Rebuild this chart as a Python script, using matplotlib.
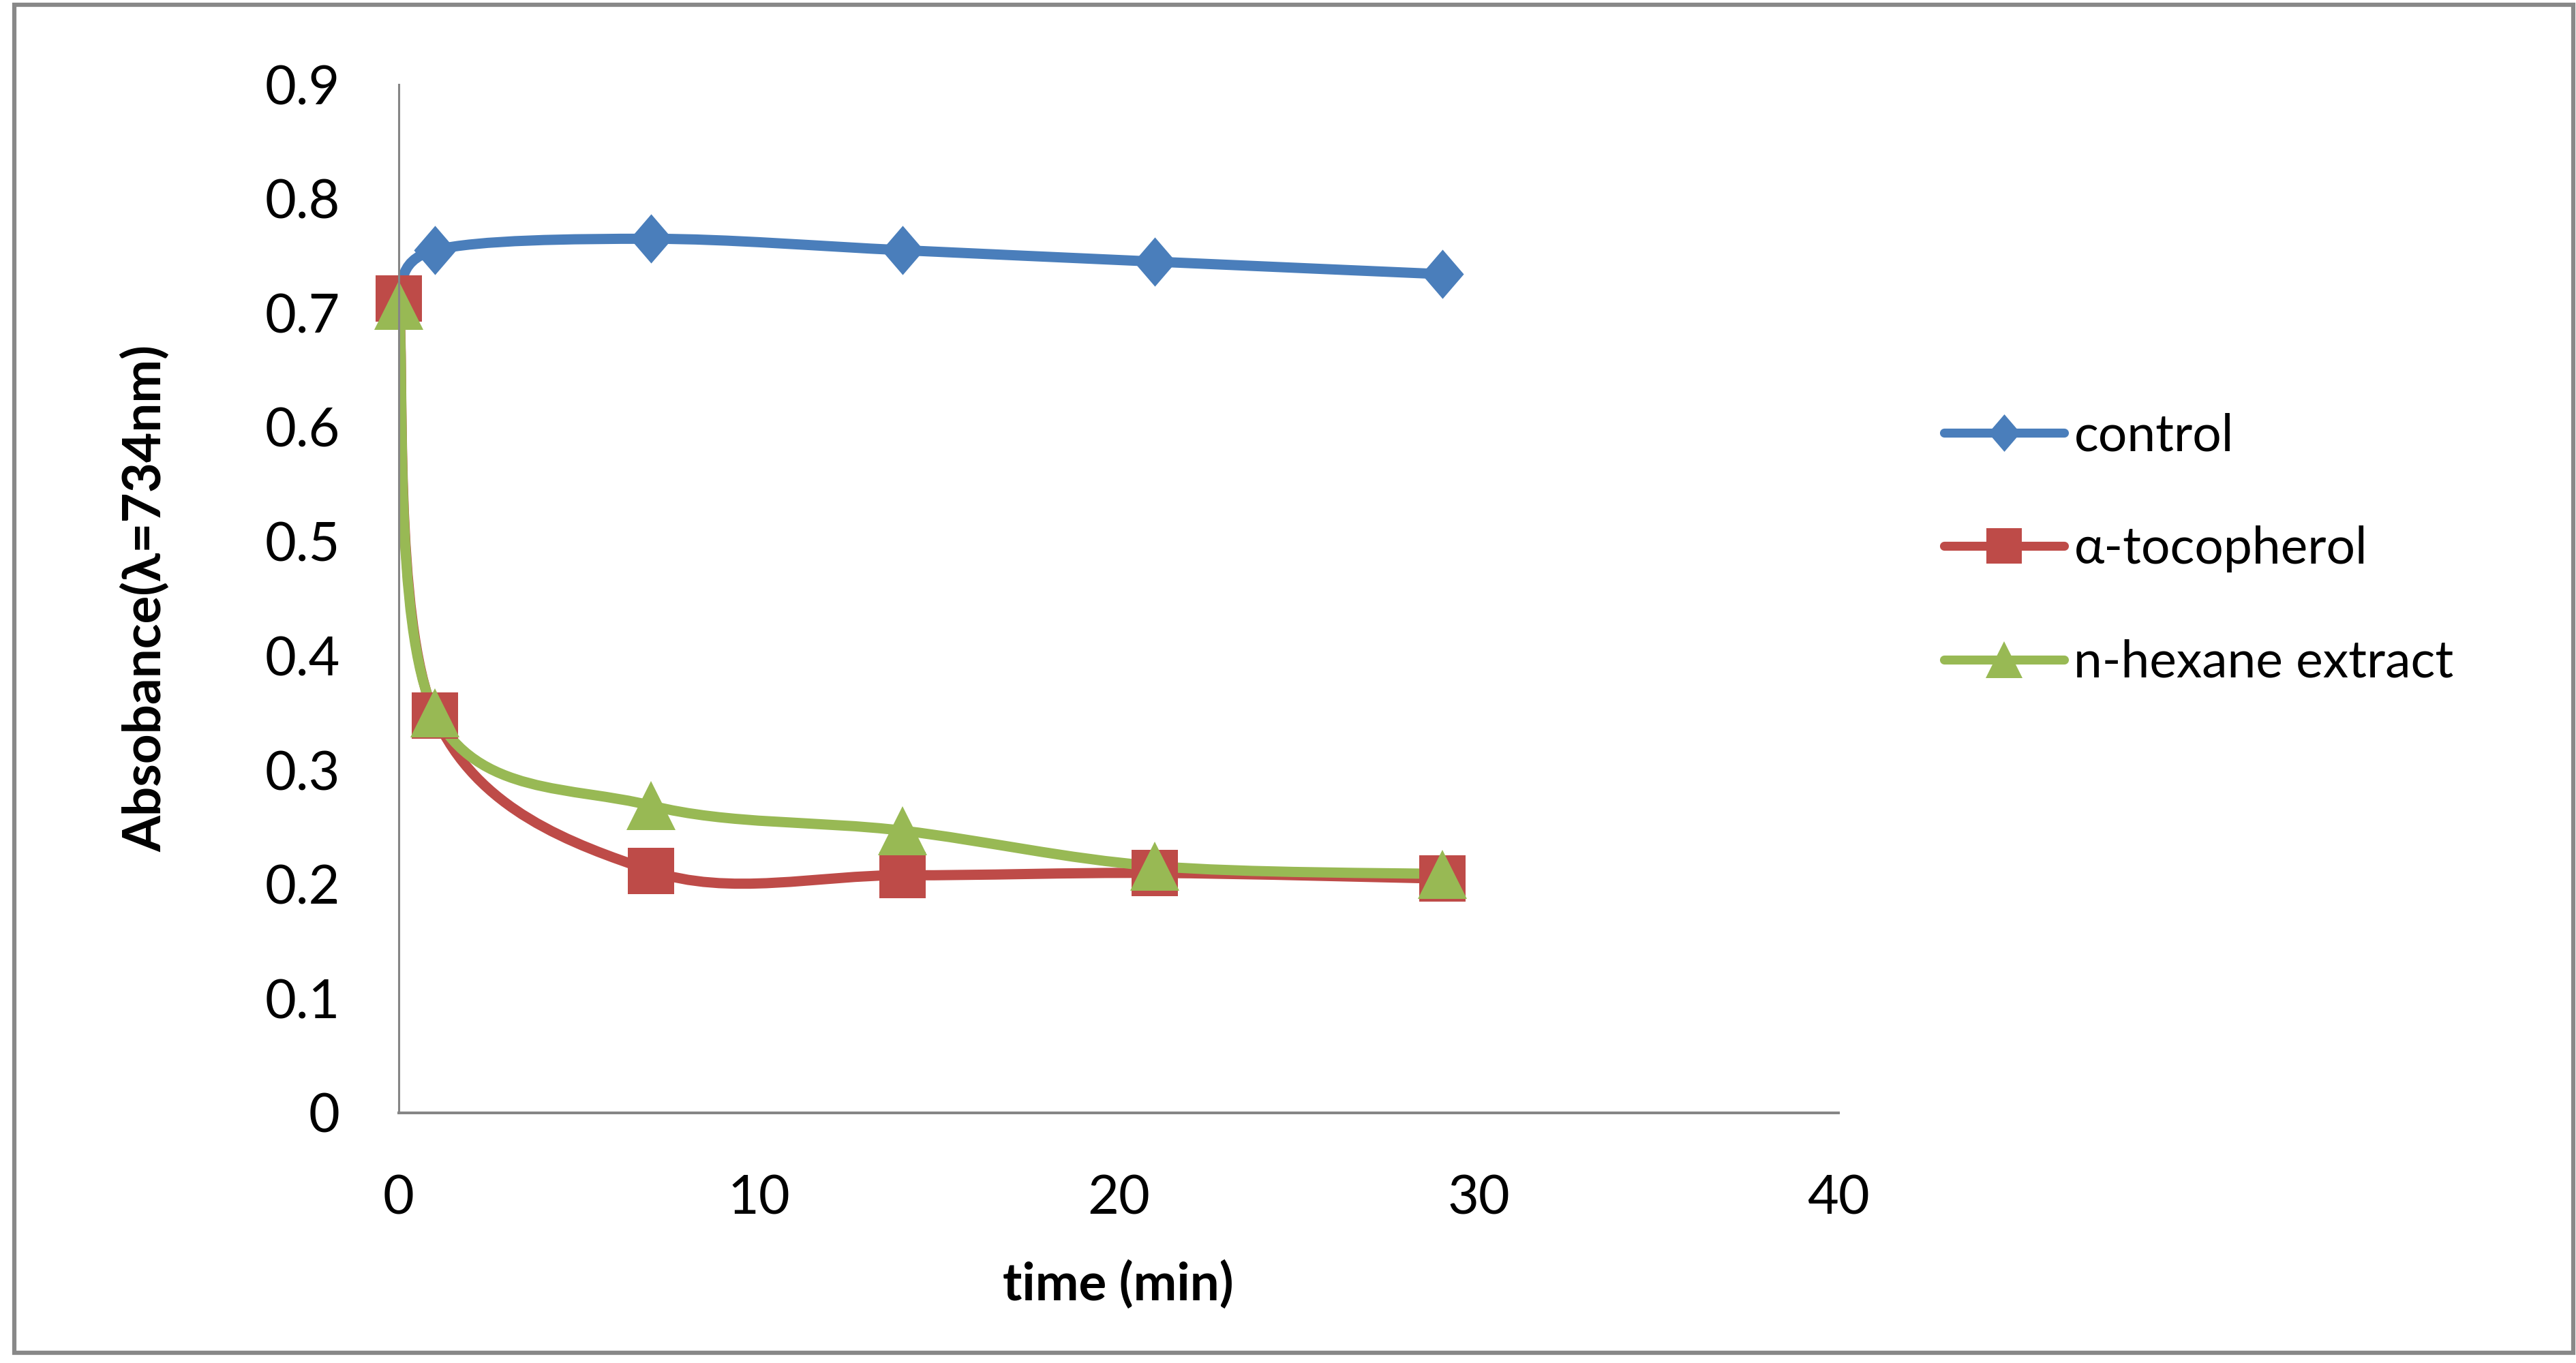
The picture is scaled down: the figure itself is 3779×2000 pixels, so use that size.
import numpy as np
import matplotlib
matplotlib.use('Agg')
import matplotlib.pyplot as plt
from matplotlib.path import Path
from matplotlib.patches import PathPatch, Rectangle
from matplotlib.lines import Line2D

plt.rcParams['font.family'] = ['Lato', 'DejaVu Sans']

# data
time_min = [0, 1, 7, 14, 21, 29]
control = [0.710, 0.755, 0.765, 0.755, 0.745, 0.734]
tocopherol = [0.713, 0.348, 0.212, 0.208, 0.210, 0.205]
hexane = [0.707, 0.350, 0.269, 0.247, 0.216, 0.209]

series_names = ['control', 'α-tocopherol', 'n-hexane extract']
series_colors = ['#4A7EBB', '#BE4B48', '#98B954']

x_ticks = [0, 10, 20, 30, 40]
y_ticks = [0, 0.1, 0.2, 0.3, 0.4, 0.5, 0.6, 0.7, 0.8, 0.9]

# excel-ish marker shapes (slightly taller than wide)
diamond = [(0, 1), (0.86, 0), (0, -1), (-0.86, 0), (0, 1)]
markers = [diamond, 's', '^']
msizes = [52, 49, 52]


def smooth_path(xs, ys):
    # Catmull-Rom as cubic bezier, like excel's "smoothed line"
    pts = np.column_stack([xs, ys]).astype(float)
    n = len(pts)
    verts = [pts[0]]
    codes = [Path.MOVETO]
    for i in range(n - 1):
        p0 = pts[max(i - 1, 0)]
        p1 = pts[i]
        p2 = pts[i + 1]
        p3 = pts[min(i + 2, n - 1)]
        verts += [p1 + (p2 - p0) / 6., p2 - (p3 - p1) / 6., p2]
        codes += [Path.CURVE4] * 3
    return Path(verts, codes)


fig = plt.figure(figsize=(37.79, 20), dpi=100)
ax = fig.add_axes([585 / 3779, 367 / 2000, (2697 - 585) / 3779, (1633 - 124) / 2000])

handles = []
for ys, name, col, mk, ms in zip([control, tocopherol, hexane], series_names,
                                 series_colors, markers, msizes):
    ax.add_patch(PathPatch(smooth_path(time_min, ys), facecolor='none',
                           edgecolor=col, lw=10.8, capstyle='round',
                           joinstyle='round'))
    ax.plot(time_min, ys, linestyle='none', marker=mk, markersize=ms,
            color=col, markeredgewidth=0, clip_on=False)
    handles.append(Line2D([], [], color=col, lw=9.5, marker=mk,
                          markersize=ms * 0.76, markeredgewidth=0,
                          solid_capstyle='round'))

ax.set_xlim(0, 40)
ax.set_ylim(0, 0.9)
ax.set_xticks(x_ticks)
ax.set_xticklabels([str(v) for v in x_ticks])
ax.set_yticks(y_ticks)
ax.set_yticklabels(['0'] + ['%.1f' % v for v in y_ticks[1:]])
ax.tick_params(length=0, labelsize=57)
ax.tick_params(axis='y', pad=62)
ax.tick_params(axis='x', pad=65)

for s in ['top', 'right']:
    ax.spines[s].set_visible(False)
ax.spines['left'].set_color('#868686')
ax.spines['left'].set_linewidth(2.2)
ax.spines['bottom'].set_color('#868686')
ax.spines['bottom'].set_linewidth(2.9)

fig.text(1640 / 3779, 1 - 1885 / 2000, 'time (min)', fontsize=55,
         fontweight='bold', ha='center', va='center')
fig.text(213 / 3779, 1 - 878 / 2000, 'Absobance(λ=734nm)', fontsize=55,
         fontweight='bold', ha='center', va='center', rotation=90)

ax.legend(handles, series_names, loc='center left',
          bbox_to_anchor=(2852 / 3779, 1 - 806 / 2000),
          bbox_transform=fig.transFigure, frameon=False, fontsize=54,
          handlelength=2.35, handletextpad=0.19, labelspacing=1.3,
          borderpad=0, borderaxespad=0)

# outer chart border
fig.patches.append(Rectangle((21 / 3779, 15 / 2000), (3775 - 21) / 3779,
                             (1985 - 7) / 2000, transform=fig.transFigure,
                             fill=False, edgecolor='#888888', lw=4.5))

fig.savefig('out.png', dpi=100)
